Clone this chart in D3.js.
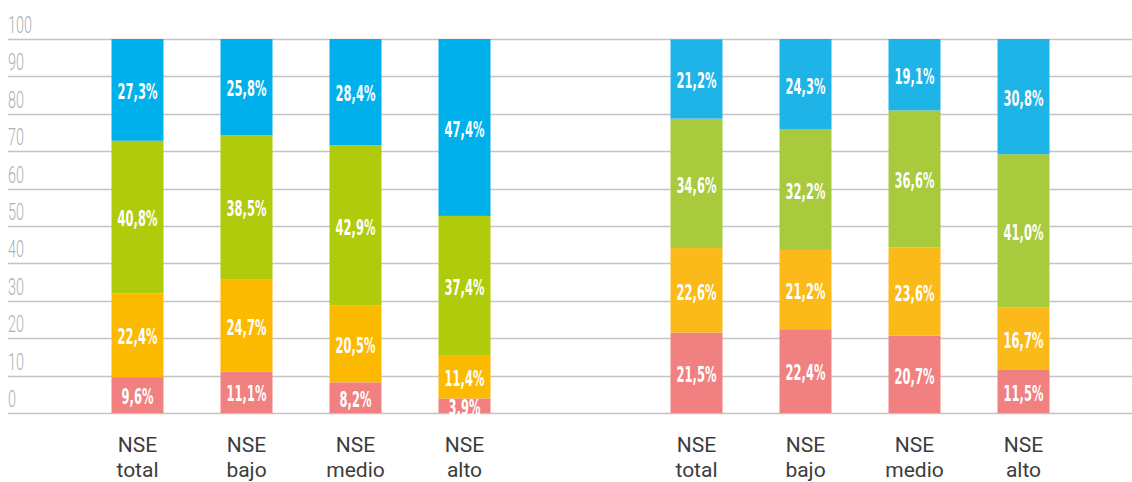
<!DOCTYPE html>
<html>
<head>
<meta charset="utf-8">
<script src="https://cdn.jsdelivr.net/npm/d3@7"></script>
<style>
  html, body { margin: 0; padding: 0; background: #fff; }
  svg { display: block; }
</style>
</head>
<body>
<svg id="chart" width="1132" height="482"></svg>
<script>
// Categories (two groups of four stacked bars)
const categories = ["NSE total", "NSE bajo", "NSE medio", "NSE alto"];
const groups = ["g1", "g2"];
const yTicks = [0, 10, 20, 30, 40, 50, 60, 70, 80, 90, 100];

// Series values, bottom to top, one array per group
const pinkA   = [9.6, 11.1, 8.2, 3.9];
const yellowA = [22.4, 24.7, 20.5, 11.4];
const greenA  = [40.8, 38.5, 42.9, 37.4];
const blueA   = [27.3, 25.8, 28.4, 47.4];

const pinkB   = [21.5, 22.4, 20.7, 11.5];
const yellowB = [22.6, 21.2, 23.6, 16.7];
const greenB  = [34.6, 32.2, 36.6, 41.0];
const blueB   = [21.2, 24.3, 19.1, 30.8];

const seriesKeys = ["pink", "yellow", "green", "blue"];
const colorsA = { pink: "#f08180", yellow: "#fbba00", green: "#b0cb0b", blue: "#00b0ea" };
const colorsB = { pink: "#f08180", yellow: "#fbba1a", green: "#a8ca3c", blue: "#1eb4e8" };

const svg = d3.select("#chart");

const y = d3.scaleLinear().domain([0, 100]).range([413, 39]);

// One band scale per group
const groupRanges = { g1: [83, 519], g2: [642, 1078] };
const xFor = g => d3.scaleBand()
  .domain(categories)
  .range(groupRanges[g])
  .paddingInner(0.523)
  .paddingOuter(0.2615);

// Gridlines
svg.append("g").selectAll("line")
  .data(yTicks)
  .join("line")
  .attr("x1", 8).attr("x2", 1132)
  .attr("y1", d => Math.round(y(d)) + 0.5)
  .attr("y2", d => Math.round(y(d)) + 0.5)
  .attr("stroke", "#c4c4c4")
  .attr("stroke-width", 1.6);

// Tick labels
svg.append("g").selectAll("text")
  .data(yTicks)
  .join("text")
  .attr("transform", d => `translate(8,${y(d) - 6}) scale(0.6,1)`)
  .attr("font-family", "Roboto, sans-serif")
  .attr("font-weight", 300)
  .attr("font-size", 24)
  .attr("fill", "#b0b0b0")
  .text(d => d);

function buildRows(pink, yellow, green, blue) {
  return categories.map((c, i) => ({ cat: c, pink: pink[i], yellow: yellow[i], green: green[i], blue: blue[i] }));
}

const dataByGroup = {
  g1: buildRows(pinkA, yellowA, greenA, blueA),
  g2: buildRows(pinkB, yellowB, greenB, blueB)
};
const colorsByGroup = { g1: colorsA, g2: colorsB };

const stack = d3.stack().keys(seriesKeys);

groups.forEach(g => {
  const x = xFor(g);
  const layers = stack(dataByGroup[g]);
  const gg = svg.append("g");

  layers.forEach(layer => {
    const key = layer.key;
    gg.append("g").selectAll("rect")
      .data(layer)
      .join("rect")
      .attr("x", d => x(d.data.cat))
      .attr("width", x.bandwidth())
      .attr("y", d => y(Math.min(d[1], 100)))
      .attr("height", d => y(d[0]) - y(Math.min(d[1], 100)))
      .attr("fill", colorsByGroup[g][key]);

    gg.append("g").selectAll("text")
      .data(layer)
      .join("text")
      .attr("transform", d => {
        const cx = x(d.data.cat) + x.bandwidth() / 2;
        const cy = (y(d[0]) + y(Math.min(d[1], 100))) / 2;
        return `translate(${cx},${cy}) scale(0.58,1)`;
      })
      .attr("text-anchor", "middle")
      .attr("dy", "0.42em")
      .attr("font-family", "'DejaVu Sans Condensed', 'DejaVu Sans', sans-serif")
      .attr("font-weight", 700)
      .attr("font-size", 22)
      .attr("fill", "#ffffff")
      .text(d => d.data[key].toFixed(1).replace(".", ",") + "%");
  });

  // Category labels, two lines
  const lab = gg.append("g").selectAll("text")
    .data(categories)
    .join("text")
    .attr("x", d => x(d) + x.bandwidth() / 2)
    .attr("y", 452)
    .attr("text-anchor", "middle")
    .attr("font-family", "Roboto, sans-serif")
    .attr("font-size", 21)
    .attr("fill", "#3c3c3c");
  lab.each(function(d) {
    const parts = d.split(" ");
    const t = d3.select(this);
    t.append("tspan").attr("x", x(d) + x.bandwidth() / 2).attr("dy", 0).text(parts[0]);
    t.append("tspan").attr("x", x(d) + x.bandwidth() / 2).attr("dy", 25).text(parts[1]);
  });
});
</script>
</body>
</html>
